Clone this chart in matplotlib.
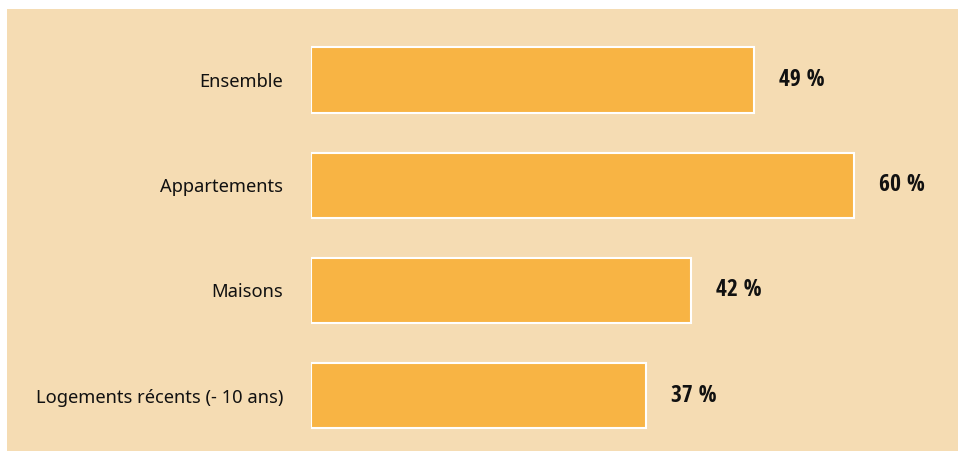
import matplotlib
matplotlib.use("Agg")
import matplotlib.pyplot as plt
from matplotlib.patches import Rectangle

categories = ["Ensemble", "Appartements", "Maisons", "Logements récents (- 10 ans)"]
values = [49, 60, 42, 37]
value_labels = ["49 %", "60 %", "42 %", "37 %"]

W, H = 963, 451
fig = plt.figure(figsize=(W / 100, H / 100), dpi=100)
fig.patch.set_facecolor("white")
fig.patches.append(Rectangle((7 / W, 0), (958 - 7) / W, (451 - 9) / H,
                             transform=fig.transFigure, facecolor="#F5DCB3",
                             edgecolor="none", zorder=-10))

ax = fig.add_axes([311 / W, 1 - 448.1 / H, 633 / W, 420.7 / H])
ax.set_zorder(1)
ax.set_facecolor("none")
ypos = list(range(len(categories)))
ax.barh(ypos, values, height=0.62, color="#F8B444", edgecolor="white", linewidth=1.5)
ax.set_xlim(0, 70)
ax.set_ylim(3.5, -0.5)
for s in ax.spines.values():
    s.set_visible(False)
ax.set_xticks([])
ax.set_yticks(ypos)
ax.set_yticklabels(categories, fontsize=13.2, family="Noto Sans", fontweight="medium",
                   color="#111111")
ax.tick_params(axis="y", length=0, pad=20)
for y, v, t in zip(ypos, values, value_labels):
    ax.annotate(t, (v, y), xytext=(25, 0), textcoords="offset pixels",
                ha="left", va="center", fontsize=17, fontweight="bold",
                family="Open Sans Condensed", color="#111111")

fig.savefig("out.png", dpi=100, facecolor="white")
